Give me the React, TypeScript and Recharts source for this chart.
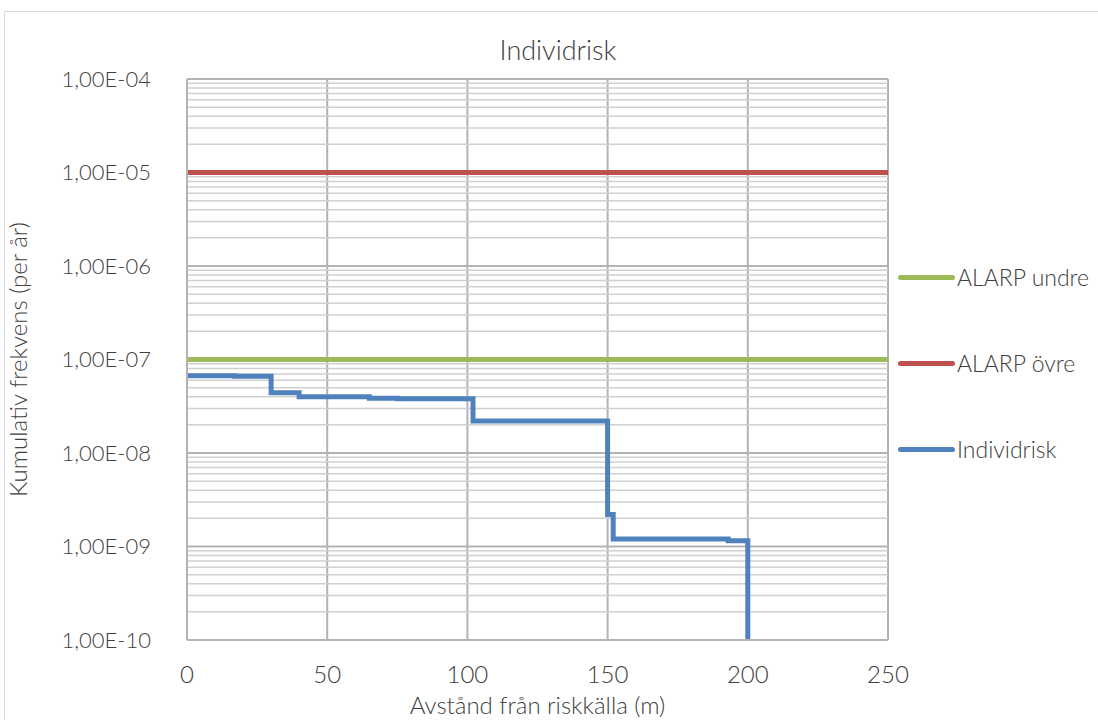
import { CartesianGrid, Line, LineChart, ReferenceLine, XAxis, YAxis } from "recharts"

const distance = [0, 17, 30, 40, 65, 75, 102, 150, 152, 193, 200]
const individrisk = [6.7e-8, 6.6e-8, 4.4e-8, 4.0e-8, 3.85e-8, 3.8e-8, 2.2e-8, 2.2e-9, 1.2e-9, 1.15e-9, 1e-12]
const alarpEnds = [0, 250]
const alarpOvre = 1e-5
const alarpUndre = 1e-7
const xTicks = [0, 50, 100, 150, 200, 250]
const yTicks = [1e-10, 1e-9, 1e-8, 1e-7, 1e-6, 1e-5, 1e-4]
const minorTicks = yTicks.slice(0, -1).flatMap((d) => [2, 3, 4, 5, 6, 7, 8, 9].map((m) => m * d))

const riskData = distance.map((x, i) => ({ x, risk: individrisk[i] }))
const ovreData = alarpEnds.map((x) => ({ x, ovre: alarpOvre }))
const undreData = alarpEnds.map((x) => ({ x, undre: alarpUndre }))

const legendItems = [
  { name: "ALARP undre", color: "#9bbb59" },
  { name: "ALARP övre", color: "#c0504d" },
  { name: "Individrisk", color: "#4f81bd" },
]

const font = "Lato, 'Open Sans', sans-serif"
const textColor = "#404040"

function sciLabel(v: number) {
  const exp = Math.round(Math.log10(v))
  return `1,00E${exp < 0 ? "-" : "+"}${String(Math.abs(exp)).padStart(2, "0")}`
}

function ChartLegend() {
  return (
    <div style={{ position: "absolute", left: 898, top: 234, fontFamily: font, fontWeight: 300, fontSize: 23, color: textColor }}>
      {legendItems.map((item) => (
        <div key={item.name} style={{ display: "flex", alignItems: "center", height: 86 }}>
          <span style={{ width: 57, height: 5, borderRadius: 3, background: item.color, marginRight: 2 }} />
          {item.name}
        </div>
      ))}
    </div>
  )
}

export default function App() {
  return (
    <div style={{ position: "absolute", left: 0, top: 0, width: 1098, height: 720, background: "#fff", overflow: "hidden" }}>
      <div style={{ position: "absolute", left: 4, top: 11, width: 1100, height: 720, border: "1.5px solid #d9d9d9" }} />
      <div
        style={{
          position: "absolute",
          left: 0,
          top: 33,
          width: 1116,
          textAlign: "center",
          fontFamily: font,
          fontWeight: 300,
          fontSize: 27,
          color: textColor,
        }}
      >
        Individrisk
      </div>
      <LineChart width={1098} height={720} margin={{ top: 79, right: 210, bottom: 6, left: 10 }} style={{ position: "absolute", left: 0, top: 0 }}>
        {minorTicks.map((v) => (
          <ReferenceLine key={v} y={v} stroke="#d0d0d0" strokeWidth={1.5} />
        ))}
        <CartesianGrid horizontalValues={yTicks} verticalValues={xTicks} stroke="#b3b3b3" strokeWidth={2} />
        <XAxis
          type="number"
          dataKey="x"
          domain={[0, 250]}
          ticks={xTicks}
          height={74}
          axisLine={{ stroke: "#b3b3b3", strokeWidth: 2 }}
          tickLine={false}
          tickMargin={20}
          tick={{ fill: textColor, fontSize: 24, fontFamily: font, fontWeight: 300 }}
          label={{ value: "Avstånd från riskkälla (m)", position: "insideBottom", offset: 0, fill: textColor, fontSize: 24, fontFamily: font, fontWeight: 300 }}
        />
        <YAxis
          scale="log"
          domain={[1e-10, 1e-4]}
          ticks={yTicks}
          allowDataOverflow
          width={177}
          axisLine={{ stroke: "#b3b3b3", strokeWidth: 2 }}
          tickLine={false}
          tickMargin={30}
          tickFormatter={sciLabel}
          tick={{ fill: textColor, fontSize: 22, fontFamily: font, fontWeight: 300 }}
          label={{ value: "Kumulativ frekvens (per år)", angle: -90, position: "insideLeft", offset: 8, style: { textAnchor: "middle" }, fill: textColor, fontSize: 24, fontFamily: font, fontWeight: 300 }}
        />
        <Line data={ovreData} dataKey="ovre" name="ALARP övre" stroke="#c0504d" strokeWidth={5} dot={false} isAnimationActive={false} />
        <Line data={undreData} dataKey="undre" name="ALARP undre" stroke="#9bbb59" strokeWidth={5} dot={false} isAnimationActive={false} />
        <Line data={riskData} dataKey="risk" name="Individrisk" type="stepAfter" stroke="#4f81bd" strokeWidth={5} dot={false} isAnimationActive={false} />
      </LineChart>
      <ChartLegend />
    </div>
  )
}
